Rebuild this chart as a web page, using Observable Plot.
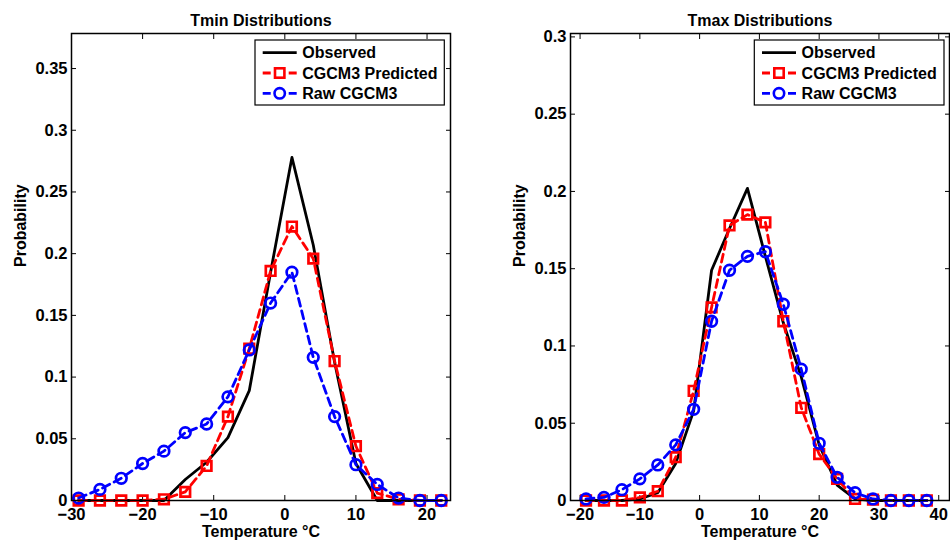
<!DOCTYPE html>
<html><head><meta charset="utf-8">
<script src="https://cdn.jsdelivr.net/npm/d3@7"></script>
<script src="https://cdn.jsdelivr.net/npm/@observablehq/plot@0.6"></script>
<style>
body{margin:0;background:#fff;}
#wrap{position:relative;width:950px;height:546px;overflow:hidden;}
#wrap > * {position:absolute;top:0;}
</style></head><body><div id="wrap"></div>
<script>
// ---------- data ----------
const tminTemps     = [-29,-26,-23,-20,-17,-14,-11,-8,-5,-2,1,4,7,10,13,16,19,22];
const tminObserved  = [0,0,0,0,0,0.017,0.031,0.051,0.089,0.185,0.278,0.207,0.112,0.030,0,0,0,0];
const tminPredicted = [0,0,0,0,0.001,0.007,0.028,0.068,0.123,0.186,0.222,0.196,0.113,0.044,0.006,0.001,0,0];
const tminRaw       = [0.002,0.009,0.018,0.030,0.040,0.055,0.062,0.084,0.122,0.160,0.185,0.116,0.068,0.029,0.013,0.002,0,0];

const tmaxTemps     = [-19,-16,-13,-10,-7,-4,-1,2,5,8,11,14,17,20,23,26,29,32,35,38];
const tmaxObserved  = [0,0,0,0.001,0.005,0.024,0.058,0.149,0.176,0.202,0.158,0.115,0.080,0.036,0.010,0.001,0,0,0,0];
const tmaxPredicted = [0,0,0,0.002,0.006,0.028,0.071,0.125,0.178,0.185,0.180,0.116,0.060,0.030,0.014,0.001,0.0005,0,0,0];
const tmaxRaw       = [0.001,0.002,0.007,0.014,0.023,0.036,0.059,0.116,0.149,0.158,0.161,0.127,0.085,0.037,0.015,0.005,0.001,0,0,0];

const tminXTicks = [-30,-20,-10,0,10,20];
const tminYTicks = [0,0.05,0.1,0.15,0.2,0.25,0.3,0.35];
const tmaxXTicks = [-20,-10,0,10,20,30,40];
const tmaxYTicks = [0,0.05,0.1,0.15,0.2,0.25,0.3];

const seriesNames = ["Observed","CGCM3 Predicted","Raw CGCM3"];
const titles = ["Tmin Distributions","Tmax Distributions"];
const xLabel = "Temperature \u00B0C";
const yLabel = "Probability";

// ---------- drawing ----------
const FONT = "'Liberation Sans', Arial, Helvetica, sans-serif";
const fmtX = d => d < 0 ? "\u2212" + Math.abs(d) : String(d);
const DASH = "8,5";

function panel({title, temps, obs, pred, raw, xDomain, yDomain, xTicks, yTicks, marginLeft, marginRight}) {
  const rows = temps.map((t, i) => ({t, obs: obs[i], pred: pred[i], raw: raw[i]}));
  return Plot.plot({
    width: 475, height: 546,
    marginLeft, marginRight, marginTop: 33, marginBottom: 46,
    x: {domain: xDomain},
    y: {domain: yDomain},
    style: {fontFamily: FONT, fontSize: "16px", fontWeight: "bold", color: "black", background: "transparent", overflow: "visible"},
    marks: [
      Plot.axisX({anchor: "bottom", ticks: xTicks, tickSize: 0, tickPadding: 8, tickFormat: fmtX, label: null, fontSize: 16.5}),
      Plot.axisX({anchor: "bottom", ticks: xTicks, tickSize: -5, tickFormat: () => "", label: null}),
      Plot.axisX({anchor: "top", ticks: xTicks, tickSize: -5, tickFormat: () => "", label: null}),
      Plot.axisY({anchor: "left", ticks: yTicks, tickSize: 0, tickPadding: 4, tickFormat: d => String(d), label: null, fontSize: 16.5}),
      Plot.axisY({anchor: "left", ticks: yTicks, tickSize: -5, tickFormat: () => "", label: null}),
      Plot.axisY({anchor: "right", ticks: yTicks, tickSize: -5, tickFormat: () => "", label: null}),
      Plot.lineY(rows, {x: "t", y: "obs", stroke: "black", strokeWidth: 2.8}),
      Plot.lineY(rows, {x: "t", y: "pred", stroke: "#ff0000", strokeWidth: 2.8, strokeDasharray: DASH}),
      Plot.dot(rows, {x: "t", y: "pred", symbol: "square", r: 5.4, stroke: "#ff0000", strokeWidth: 2.7, fill: "none"}),
      Plot.lineY(rows, {x: "t", y: "raw", stroke: "#0000ff", strokeWidth: 2.8, strokeDasharray: DASH}),
      Plot.dot(rows, {x: "t", y: "raw", symbol: "circle", r: 5.3, stroke: "#0000ff", strokeWidth: 2.7, fill: "none"}),
      Plot.frame({stroke: "black", strokeWidth: 1.5}),
      Plot.text([title], {frameAnchor: "top", dy: -19, text: d => d, fontSize: 16, fontWeight: "bold"}),
      Plot.text([xLabel], {frameAnchor: "bottom", dy: 36, text: d => d, fontSize: 16, fontWeight: "bold"}),
      Plot.text([yLabel], {frameAnchor: "left", dx: -51, rotate: -90, text: d => d, fontSize: 16, fontWeight: "bold"})
    ]
  });
}

const wrap = document.getElementById("wrap");

const p1 = panel({title: titles[0], temps: tminTemps, obs: tminObserved, pred: tminPredicted, raw: tminRaw,
  xDomain: [-30, 23.3], yDomain: [0, 0.3784], xTicks: tminXTicks, yTicks: tminYTicks, marginLeft: 71, marginRight: 25});
p1.style.left = "0px";
wrap.appendChild(p1);

const p2 = panel({title: titles[1], temps: tmaxTemps, obs: tmaxObserved, pred: tmaxPredicted, raw: tmaxRaw,
  xDomain: [-21.6, 41.8], yDomain: [0, 0.3022], xTicks: tmaxXTicks, yTicks: tmaxYTicks, marginLeft: 95, marginRight: 1});
p2.style.left = "475px";
wrap.appendChild(p2);

// legends
const ov = d3.create("svg").attr("width", 950).attr("height", 546)
  .style("left", "0px").style("pointer-events", "none")
  .style("font-family", FONT).style("font-size", "16px").style("font-weight", "bold");
const styles = [
  {stroke: "black", dash: null, marker: null},
  {stroke: "#ff0000", dash: DASH, marker: "square"},
  {stroke: "#0000ff", dash: DASH, marker: "circle"}
];
function legend(x0, y0, w, h) {
  const g = ov.append("g").attr("transform", `translate(${x0},${y0})`);
  g.append("rect").attr("width", w).attr("height", h).attr("fill", "white").attr("stroke", "black").attr("stroke-width", 1.2);
  const rowsY = [12.6, 33, 53.3];
  seriesNames.forEach((name, i) => {
    const s = styles[i], y = rowsY[i];
    g.append("line").attr("x1", 7.7).attr("x2", 41.7).attr("y1", y).attr("y2", y)
      .attr("stroke", s.stroke).attr("stroke-width", 2.8).attr("stroke-dasharray", s.dash);
    if (s.marker === "square") {
      g.append("rect").attr("x", 24.7 - 4.7).attr("y", y - 4.7).attr("width", 9.4).attr("height", 9.4)
        .attr("fill", "white").attr("stroke", s.stroke).attr("stroke-width", 2.6);
    } else if (s.marker === "circle") {
      g.append("circle").attr("cx", 24.7).attr("cy", y).attr("r", 5.2)
        .attr("fill", "white").attr("stroke", s.stroke).attr("stroke-width", 2.6);
    }
    g.append("text").attr("x", 47.3).attr("y", y).attr("dy", "0.36em").attr("fill", "black").text(name);
  });
}
legend(255, 40, 189.3, 65);
legend(754.3, 40, 189.7, 65);
wrap.appendChild(ov.node());
</script></body></html>
